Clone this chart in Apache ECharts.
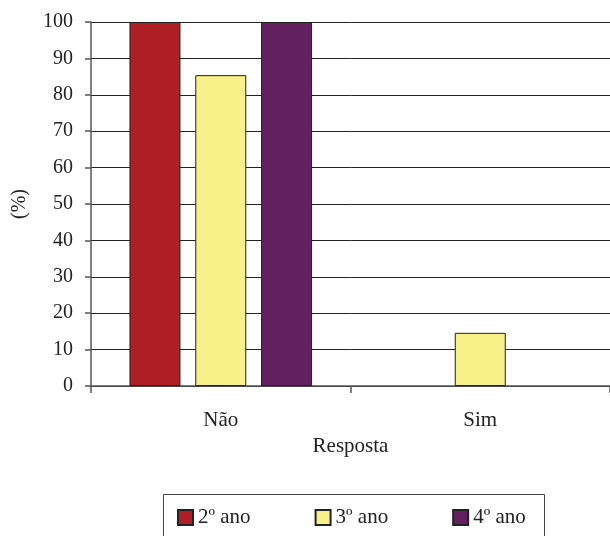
<!DOCTYPE html>
<html>
<head>
<meta charset="utf-8">
<script src="https://cdn.jsdelivr.net/npm/echarts@6/dist/echarts.min.js"></script>
<style>
  html, body { margin: 0; padding: 0; background: #fff; }
  #chart { width: 610px; height: 536px; }
</style>
</head>
<body>
<div id="chart"></div>
<script>
// Respostas (%) por ano escolar
const categories = ['Não', 'Sim'];
const seriesNames = ['2º ano', '3º ano', '4º ano'];
const ano2 = [100, 0];
const ano3 = [85.4, 14.6];
const ano4 = [100, 0];
const yTicks = { min: 0, max: 100, interval: 10 };

const colors = ['#ae1f26', '#f8f088', '#62205f'];
const serif = '"Liberation Serif", "DejaVu Serif", serif';

const chart = echarts.init(document.getElementById('chart'));

const barStyle = (c) => ({ color: c, borderColor: '#222', borderWidth: 1 });
// an empty answer draws no bar at all (no outline on the axis)
const barData = (arr) => arr.map(v => (v === 0 ? '-' : v));

chart.setOption({
  animation: false,
  textStyle: { fontFamily: serif },
  grid: { left: 91, right: 0, top: 22, bottom: 150, containLabel: false, outerBoundsMode: 'none' },
  xAxis: {
    type: 'category',
    data: categories,
    name: 'Resposta',
    nameLocation: 'middle',
    nameGap: 46,
    nameTextStyle: { fontFamily: serif, fontSize: 21, color: '#222' },
    axisLine: { lineStyle: { color: '#555', width: 1.5 } },
    axisTick: { show: true, length: 7, lineStyle: { color: '#555', width: 1.5 } },
    axisLabel: { fontFamily: serif, fontSize: 21, color: '#222', margin: 24 }
  },
  yAxis: {
    type: 'value',
    min: yTicks.min,
    max: yTicks.max,
    interval: yTicks.interval,
    name: '(%)',
    nameLocation: 'middle',
    nameGap: 61,
    nameRotate: 90,
    nameTextStyle: { fontFamily: serif, fontSize: 20, color: '#222' },
    axisLine: { show: true, lineStyle: { color: '#555', width: 1.5 } },
    axisTick: { show: true, length: 6, lineStyle: { color: '#555', width: 1.5 } },
    axisLabel: { fontFamily: serif, fontSize: 20, color: '#222', margin: 18 },
    splitLine: { show: true, lineStyle: { color: '#222', width: 1 } }
  },
  legend: {
    data: seriesNames,
    left: 177,
    top: 507,
    padding: 0,
    icon: 'rect',
    itemWidth: 15,
    itemHeight: 15,
    itemGap: 64,
    textStyle: { fontFamily: serif, fontSize: 21, color: '#222', padding: [0, 0, 0, 0] }
  },
  graphic: [{
    type: 'rect',
    left: 161,
    top: 492,
    shape: { width: 381, height: 60 },
    style: { fill: 'none', stroke: '#444', lineWidth: 1 },
    silent: true
  }],
  series: [
    { name: seriesNames[0], type: 'bar', data: barData(ano2), barWidth: 51, barGap: '29%', itemStyle: barStyle(colors[0]) },
    { name: seriesNames[1], type: 'bar', data: barData(ano3), barWidth: 51, barGap: '29%', itemStyle: barStyle(colors[1]) },
    { name: seriesNames[2], type: 'bar', data: barData(ano4), barWidth: 51, barGap: '29%', itemStyle: barStyle(colors[2]) }
  ]
});
</script>
</body>
</html>
